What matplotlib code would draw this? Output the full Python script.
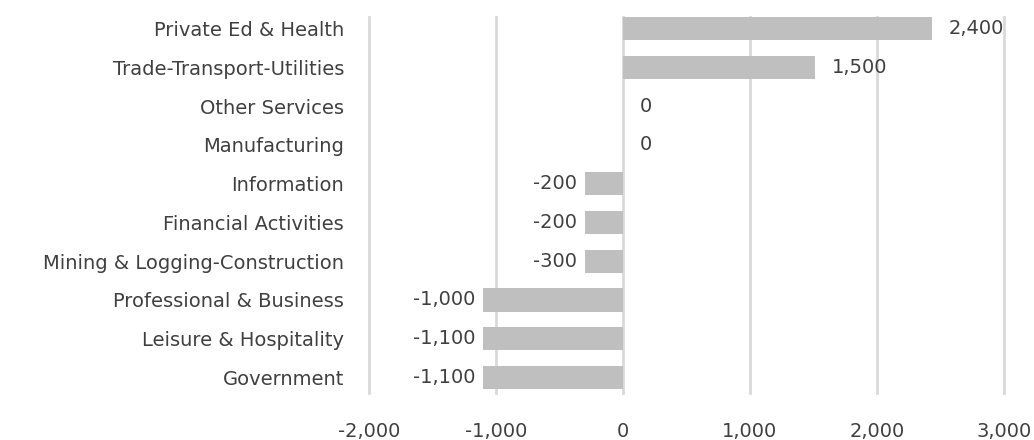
import matplotlib
matplotlib.use("Agg")
import matplotlib.pyplot as plt
from matplotlib.ticker import FuncFormatter
from matplotlib.transforms import offset_copy

categories = ["Private Ed & Health", "Trade-Transport-Utilities", "Other Services",
              "Manufacturing", "Information", "Financial Activities",
              "Mining & Logging-Construction", "Professional & Business",
              "Leisure & Hospitality", "Government"]
values = [2430, 1510, 0, 0, -300, -300, -300, -1100, -1100, -1100]
value_labels = ["2,400", "1,500", "0", "0", "-200", "-200", "-300", "-1,000", "-1,100", "-1,100"]
x_ticks = [-2000, -1000, 0, 1000, 2000, 3000]

plt.rcParams['font.family'] = ['DejaVu Sans']
text_color = "#404040"
fs = 14

fig = plt.figure(figsize=(10.34, 4.4), dpi=100)
ax = fig.add_axes([369/1034, 1-393/440, (1004-369)/1034, (393-17)/440])

n = len(categories)
ypos = list(range(n))[::-1]
ax.barh(ypos, values, height=0.6, color="#bfbfbf", zorder=3)

ax.set_xlim(-2000, 3000)
ax.set_ylim(-0.4, n-1+0.3)
ax.set_xticks(x_ticks)
ax.xaxis.set_major_formatter(FuncFormatter(lambda v, p: f"{int(v):,}"))
ax.set_yticks(ypos)
ax.set_yticklabels(categories)
ax.tick_params(axis='both', length=0, labelsize=fs, colors=text_color)
ax.tick_params(axis='y', pad=18)
ax.tick_params(axis='x', pad=21)
ax.grid(axis='x', color="#d9d9d9", linewidth=2, zorder=0)
for gl in ax.xaxis.get_gridlines():
    gl.set_clip_on(False)
for s in ax.spines.values():
    s.set_visible(False)

for y, v, lab in zip(ypos, values, value_labels):
    if v >= 0:
        tr = offset_copy(ax.transData, fig=fig, x=17, y=0, units='dots')
        ax.text(v, y, lab, transform=tr, ha='left', va='center', fontsize=fs, color=text_color)
    else:
        tr = offset_copy(ax.transData, fig=fig, x=-8, y=0, units='dots')
        ax.text(v, y, lab, transform=tr, ha='right', va='center', fontsize=fs, color=text_color)

fig.savefig("out.png", dpi=100)
